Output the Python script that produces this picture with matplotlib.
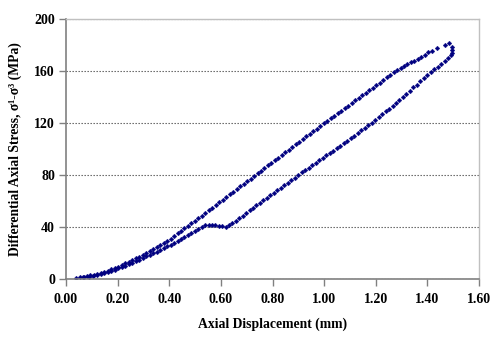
import matplotlib
matplotlib.use("Agg")
import matplotlib.pyplot as plt

# unloading branch (upper curve)
upper_x = [0.040, 0.054, 0.067, 0.081, 0.094, 0.108, 0.121, 0.135, 0.148, 0.162,
           0.175, 0.189, 0.202, 0.216, 0.229, 0.243, 0.256, 0.270, 0.283, 0.297,
           0.310, 0.324, 0.337, 0.351, 0.364, 0.378, 0.391, 0.405, 0.418, 0.432,
           0.445, 0.459, 0.472, 0.486, 0.499, 0.513, 0.526, 0.540, 0.553, 0.567,
           0.580, 0.594, 0.607, 0.621, 0.634, 0.648, 0.661, 0.675, 0.688, 0.702,
           0.715, 0.729, 0.742, 0.756, 0.769, 0.783, 0.796, 0.810, 0.823, 0.837,
           0.850, 0.864, 0.877, 0.891, 0.904, 0.918, 0.931, 0.945, 0.958, 0.972,
           0.985, 0.999, 1.012, 1.026, 1.039, 1.053, 1.066, 1.080, 1.093, 1.107,
           1.120, 1.134, 1.147, 1.161, 1.174, 1.188, 1.201, 1.215, 1.228, 1.242,
           1.255, 1.269, 1.282, 1.296, 1.309, 1.323, 1.336, 1.350, 1.363, 1.377,
           1.390, 1.404, 1.417, 1.439, 1.468, 1.485]
upper_y = [1.0, 1.5, 1.9, 2.4, 2.8, 3.4, 4.2, 5.0, 5.7, 6.5,
           7.5, 8.6, 9.7, 10.9, 12.1, 13.4, 14.6, 16.0, 17.3, 18.7,
           20.1, 21.6, 23.1, 24.6, 26.2, 27.9, 29.4, 31.2, 33.1, 35.1,
           37.0, 39.0, 40.8, 42.9, 44.8, 46.9, 48.9, 51.0, 52.9, 55.0,
           57.0, 59.1, 61.1, 63.2, 65.1, 67.2, 69.2, 71.3, 73.2, 75.3,
           77.3, 79.4, 81.3, 83.4, 85.4, 87.5, 89.4, 91.5, 93.5, 95.6,
           97.5, 99.6, 101.6, 103.7, 105.6, 107.7, 109.7, 111.8, 113.7, 115.8,
           117.8, 119.9, 121.7, 123.8, 125.7, 127.7, 129.6, 131.6, 133.5, 135.5,
           137.4, 139.4, 141.3, 143.3, 145.2, 147.3, 149.3, 151.2, 153.1, 155.2,
           157.1, 159.1, 160.8, 162.3, 163.7, 165.2, 166.6, 168.1, 169.5, 171.1,
           172.7, 174.4, 175.8, 177.5, 180.0, 181.8]

# loading branch (lower curve)
lower_x = [0.070, 0.088, 0.105, 0.120, 0.135, 0.149, 0.162, 0.176, 0.189, 0.203,
           0.216, 0.230, 0.243, 0.257, 0.270, 0.284, 0.297, 0.311, 0.324, 0.338,
           0.351, 0.365, 0.378, 0.392, 0.405, 0.419, 0.432, 0.446, 0.459, 0.473,
           0.486, 0.500, 0.513, 0.527, 0.540, 0.553, 0.566, 0.579, 0.592, 0.605,
           0.618, 0.631, 0.644, 0.657, 0.671, 0.684, 0.698, 0.711, 0.725, 0.738,
           0.752, 0.765, 0.779, 0.792, 0.806, 0.819, 0.833, 0.846, 0.860, 0.873,
           0.887, 0.900, 0.914, 0.927, 0.941, 0.954, 0.968, 0.981, 0.995, 1.008,
           1.022, 1.035, 1.049, 1.062, 1.076, 1.089, 1.103, 1.116, 1.130, 1.143,
           1.157, 1.170, 1.184, 1.197, 1.211, 1.224, 1.238, 1.251, 1.265, 1.278,
           1.292, 1.305, 1.319, 1.332, 1.346, 1.359, 1.373, 1.386, 1.400, 1.413,
           1.427, 1.440, 1.454, 1.467, 1.481, 1.493, 1.495, 1.495, 1.494]
lower_y = [1.3, 2.0, 2.6, 3.1, 3.8, 4.6, 5.3, 6.3, 7.2, 8.2,
           9.3, 10.4, 11.4, 12.6, 13.8, 15.1, 16.2, 17.5, 18.7, 19.9,
           21.1, 22.5, 23.8, 25.2, 26.6, 28.1, 29.5, 31.1, 32.5, 34.0,
           35.5, 37.0, 38.6, 40.2, 41.3, 41.8, 41.8, 41.4, 40.9, 40.5,
           40.3, 41.5, 43.2, 45.0, 47.0, 48.9, 50.9, 52.8, 54.8, 56.7,
           58.7, 60.6, 62.6, 64.4, 66.5, 68.3, 70.4, 72.2, 74.2, 76.1,
           78.1, 80.0, 82.0, 83.8, 85.7, 87.6, 89.5, 91.3, 93.3, 95.1,
           97.0, 98.8, 100.8, 102.6, 104.5, 106.3, 108.3, 110.2, 112.3, 114.3,
           116.4, 118.3, 120.4, 122.4, 124.6, 126.8, 129.1, 131.2, 133.5, 135.7,
           138.0, 140.2, 142.6, 144.9, 147.4, 149.6, 152.1, 154.4, 156.8, 159.0,
           161.3, 163.4, 165.7, 167.9, 170.2, 172.3, 174.2, 176.1, 178.3]

x_ticks = [0.0, 0.2, 0.4, 0.6, 0.8, 1.0, 1.2, 1.4, 1.6]
y_ticks = [0, 40, 80, 120, 160, 200]

plt.rcParams["font.family"] = ["Liberation Serif", "DejaVu Serif"]
plt.rcParams["font.weight"] = "bold"

fig = plt.figure(figsize=(5.0, 3.4), dpi=100)
ax = fig.add_axes([0.132, 0.179, 0.826, 0.765])

navy = "#000080"
for xs, ys in [(upper_x, upper_y), (lower_x, lower_y)]:
    ax.plot(xs, ys, linestyle="none", marker="D", markersize=2.4,
            color=navy, markeredgewidth=0.25)

ax.set_xlim(0, 1.6)
ax.set_ylim(0, 200)
ax.set_xticks(x_ticks)
ax.set_xticklabels([f"{v:.2f}" for v in x_ticks])
ax.set_yticks(y_ticks)
ax.set_yticklabels([str(v) for v in y_ticks])

ax.set_axisbelow(True)
ax.yaxis.grid(True, linestyle=(0, (1.2, 1.5)), color="#555555", linewidth=0.8)

for side in ["left", "bottom"]:
    ax.spines[side].set_color("#808080")
    ax.spines[side].set_linewidth(1.2)
for side in ["top", "right"]:
    ax.spines[side].set_color("#c0c0c0")
    ax.spines[side].set_linewidth(1.0)

ax.tick_params(axis="both", direction="out", length=5, width=1,
               color="#808080", labelsize=10)
ax.tick_params(axis="y", pad=3)
ax.tick_params(axis="x", pad=5)

ax.set_xlabel("Axial Displacement (mm)", fontsize=9.8, fontweight="bold", labelpad=8)
ax.set_ylabel("Differential Axial Stress, σ¹-σ³ (MPa)", fontsize=9.8,
              fontweight="bold", labelpad=9)

fig.savefig("out.png", dpi=100)
